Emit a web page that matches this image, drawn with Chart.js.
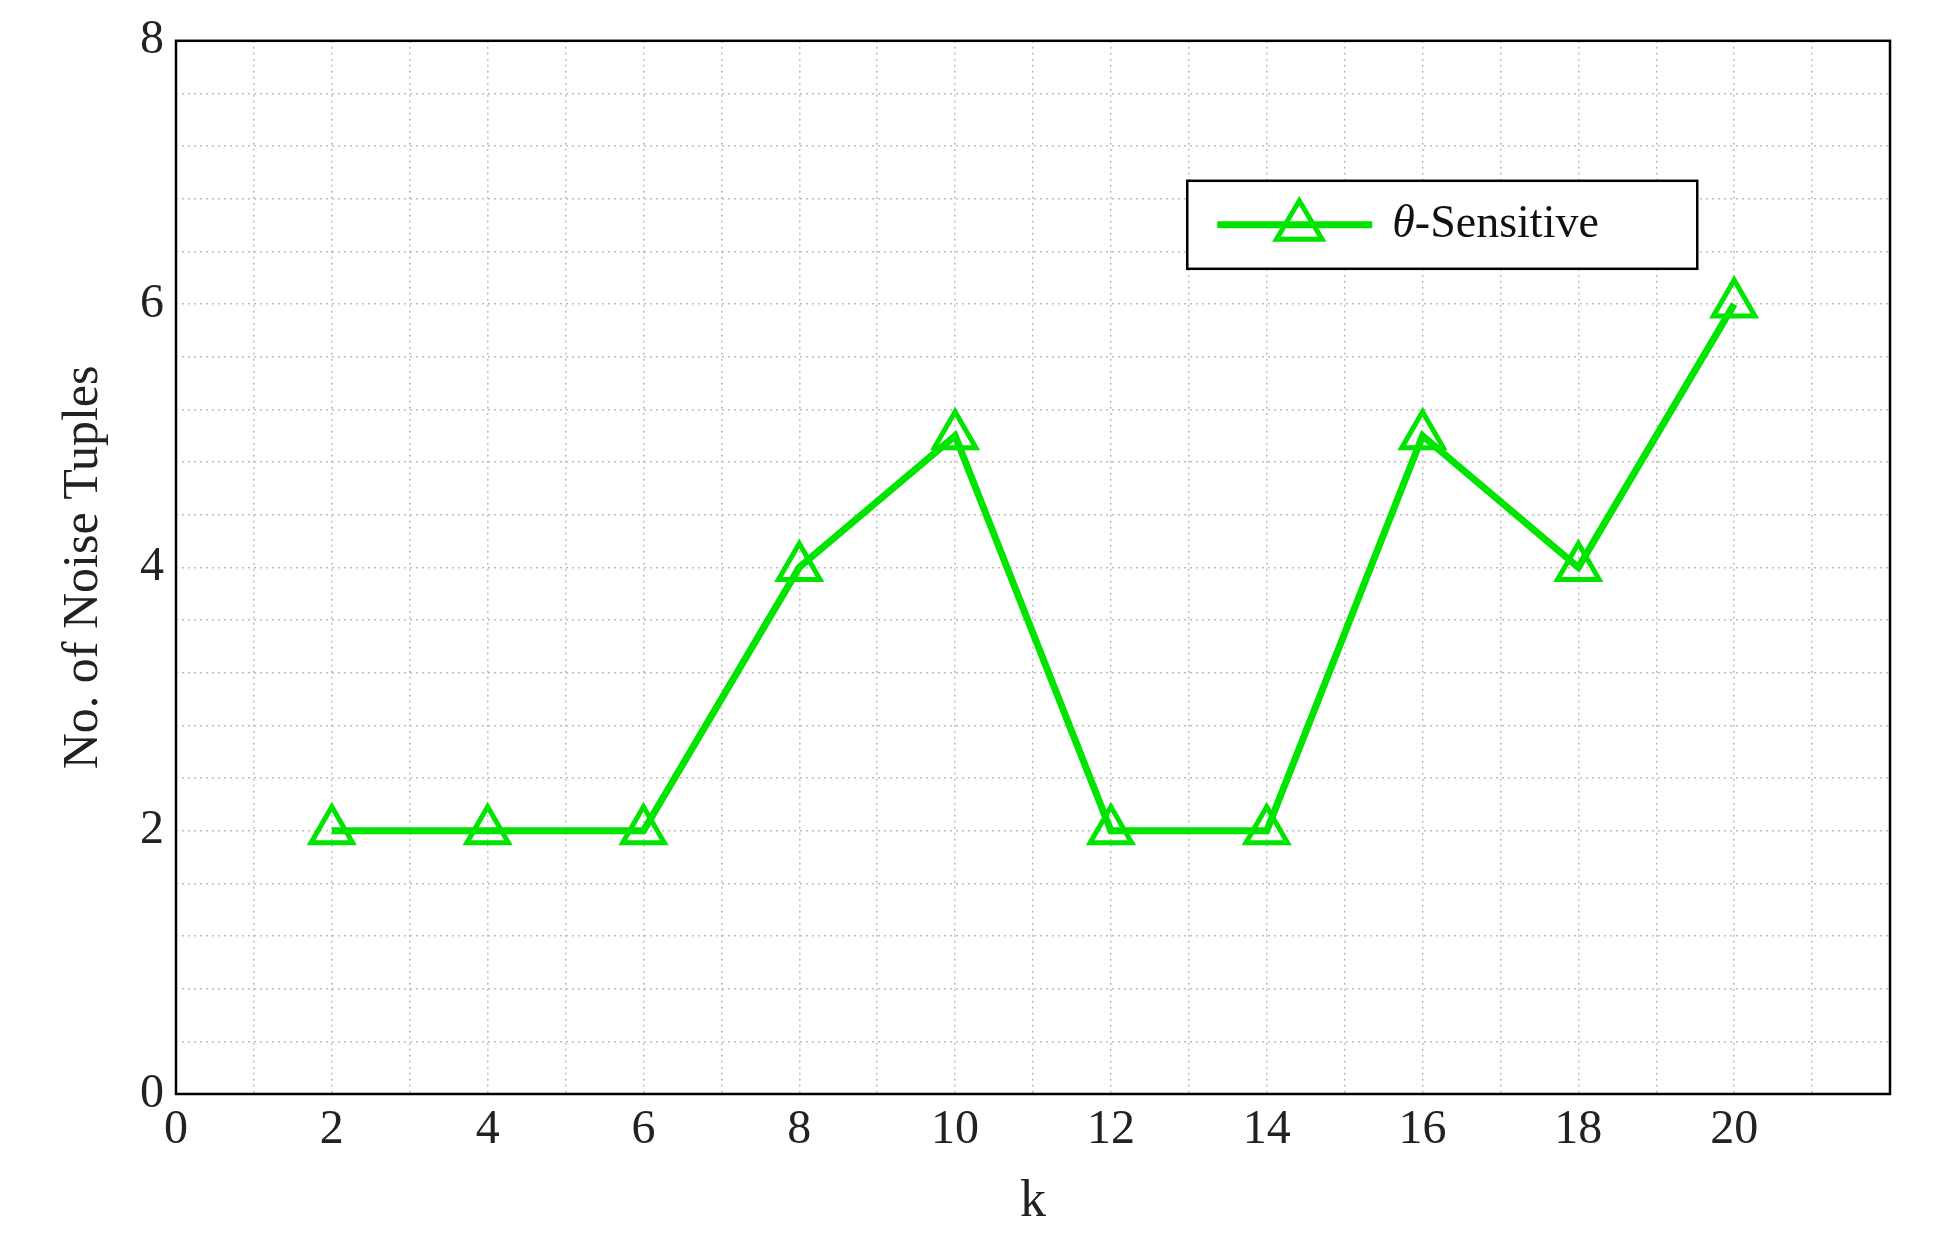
<!DOCTYPE html>
<html><head><meta charset="utf-8">
<script src="https://cdn.jsdelivr.net/npm/chart.js@4"></script>
<style>html,body{margin:0;padding:0;background:#fff}#w{width:1942px;height:1256px}</style>
</head><body><div id="w"><canvas id="c"></canvas></div>
<script>
const kValues = [2,4,6,8,10,12,14,16,18,20];
const noiseTuples = [2,2,2,4,5,2,2,5,4,6];
const seriesLabel = 'θ-Sensitive';
const green = 'rgb(0,228,0)';
const font = 'Liberation Serif';

const legendPlugin = {
  id: 'boxLegend',
  afterDraw(chart) {
    const ctx = chart.ctx, a = chart.chartArea;
    const x0 = a.left + (a.right - a.left) * 0.59, y0 = a.top + 140, w = 510, h = 88;
    ctx.save();
    ctx.fillStyle = '#fff'; ctx.fillRect(x0, y0, w, h);
    ctx.strokeStyle = '#000'; ctx.lineWidth = 2.5; ctx.strokeRect(x0, y0, w, h);
    const cy = y0 + h / 2;
    ctx.strokeStyle = green; ctx.lineWidth = 7;
    ctx.beginPath(); ctx.moveTo(x0 + 30, cy); ctx.lineTo(x0 + 185, cy); ctx.stroke();
    const cx = x0 + 112, r = 24;
    ctx.lineWidth = 5;
    ctx.beginPath(); ctx.moveTo(cx, cy - r); ctx.lineTo(cx + r * 0.95, cy + r * 0.6); ctx.lineTo(cx - r * 0.95, cy + r * 0.6); ctx.closePath(); ctx.stroke();
    ctx.fillStyle = '#111'; ctx.textBaseline = 'middle';
    ctx.font = 'italic 46px ' + font; ctx.fillText('θ', x0 + 205, cy);
    const tw = ctx.measureText('θ').width;
    ctx.font = '46px ' + font; ctx.fillText('-Sensitive', x0 + 205 + tw, cy);
    ctx.restore();
  }
};

new Chart(document.getElementById('c'), {
  type: 'line',
  data: { datasets: [{
    label: seriesLabel,
    data: kValues.map((k, i) => ({x: k, y: noiseTuples[i]})),
    borderColor: green, borderWidth: 7,
    pointStyle: 'triangle', pointRadius: 24, pointBorderWidth: 5,
    pointBackgroundColor: 'rgba(255,255,255,0)', pointBorderColor: green,
    tension: 0
  }]},
  options: {
    responsive: true, maintainAspectRatio: false, animation: false,
    layout: { padding: { left: 50, right: 52, top: 38, bottom: 18 } },
    plugins: { legend: { display: false }, tooltip: { enabled: false } },
    scales: {
      x: { type: 'linear', min: 0, max: 22,
        ticks: { stepSize: 1, autoSkip: false, color: '#222', font: { family: font, size: 48 }, padding: 8,
          callback: v => (v % 2 === 0 && v < 22) ? String(v) : '' },
        grid: { color: '#bdbdbd', lineWidth: 1.5, drawTicks: false },
        border: { display: false, dash: [2, 4] },
        title: { display: true, text: 'k', color: '#222', font: { family: font, size: 52 }, padding: { top: 4 } }
      },
      y: { min: 0, max: 8,
        ticks: { stepSize: 0.4, autoSkip: false, color: '#222', font: { family: font, size: 48 }, padding: 12,
          callback: v => { const r = Math.round(v * 10) / 10; return (r % 2 === 0) ? String(r) : ''; } },
        grid: { color: '#bdbdbd', lineWidth: 1.5, drawTicks: false },
        border: { display: false, dash: [2, 4] },
        title: { display: true, text: 'No. of Noise Tuples', color: '#222', font: { family: font, size: 50 }, padding: { bottom: 14 } }
      }
    }
  },
  plugins: [legendPlugin, {
    id: 'frame',
    beforeDatasetsDraw(chart) {
      const ctx = chart.ctx, a = chart.chartArea;
      ctx.save(); ctx.strokeStyle = '#000'; ctx.lineWidth = 2.5;
      ctx.strokeRect(a.left, a.top, a.right - a.left, a.bottom - a.top); ctx.restore();
    }
  }]
});
</script></body></html>
